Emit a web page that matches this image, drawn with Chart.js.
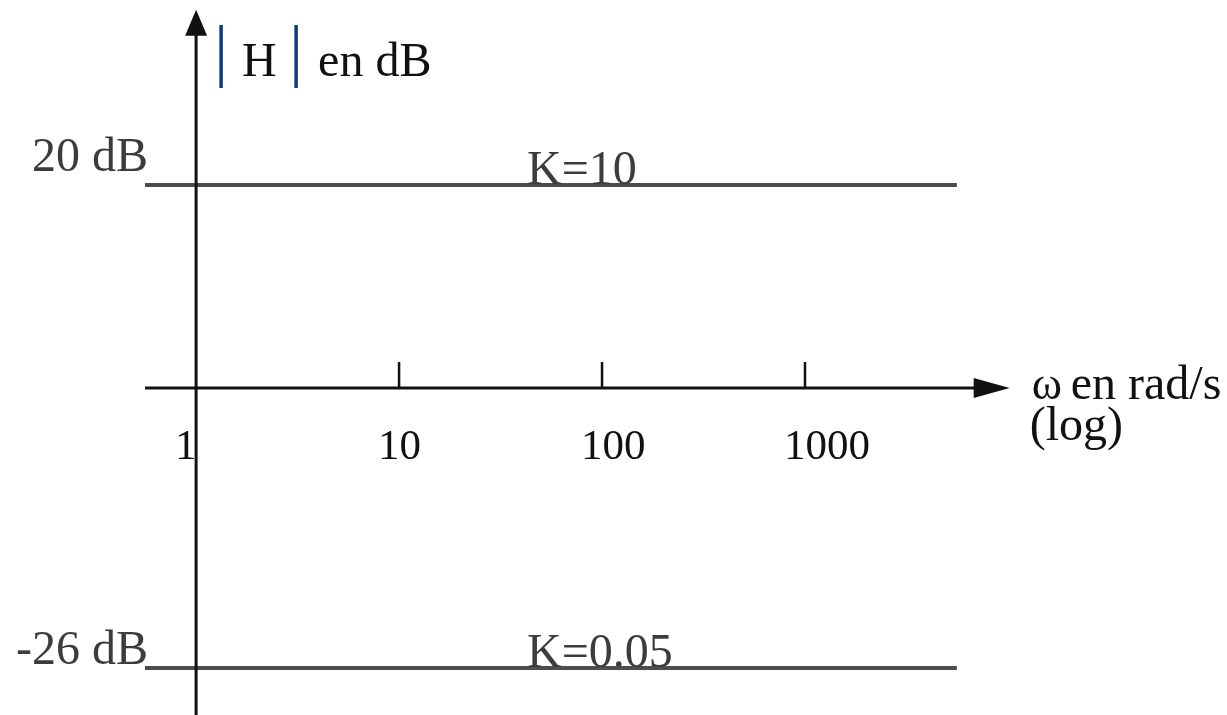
<!DOCTYPE html>
<html>
<head>
<meta charset="utf-8">
<title>Diagramme de Bode - gain K</title>
<script src="https://cdn.jsdelivr.net/npm/chart.js@4.4.1/dist/chart.umd.min.js"></script>
<style>
  html, body { margin: 0; padding: 0; background: #fff; }
  #bode { display: block; }
</style>
</head>
<body>
<canvas id="bode" width="1227" height="715"></canvas>
<script>
// gains constants K et leur module en dB
const gainNames = ["K=10", "K=0.05"];
const gainDb = [20, -26];
const dbLabels = ["20 dB", "-26 dB"];

// axe des pulsations (log)
const omegaTicks = [10, 100, 1000];
const omegaLabelValues = [1, 10, 100, 1000];
const omegaLabels = ["1", "10", "100", "1000"];
const omegaSpan = [0.56, 5600];   // etendue des droites
const omegaAxisEnd = 10200;       // pointe de la fleche
const dbAxisEnd = 36.7;

const FONT = '"Liberation Serif", "Times New Roman", serif';

const axesPlugin = {
  id: "bodeAxes",
  afterDatasetsDraw(chart) {
    const ctx = chart.ctx;
    const xs = chart.scales.x, ys = chart.scales.y;
    const ax0 = xs.getPixelForValue(1);
    const ay0 = ys.getPixelForValue(0);
    const left = xs.getPixelForValue(omegaSpan[0]);
    const right = xs.getPixelForValue(omegaAxisEnd);
    const top = ys.getPixelForValue(dbAxisEnd);

    ctx.save();
    ctx.strokeStyle = "#111";
    ctx.fillStyle = "#111";
    ctx.lineWidth = 3;

    // axe horizontal + fleche
    ctx.beginPath();
    ctx.moveTo(left, ay0 - 7);
    ctx.lineTo(right - 30, ay0 - 7);
    ctx.stroke();
    ctx.beginPath();
    ctx.moveTo(right, ay0 - 7);
    ctx.lineTo(right - 36, ay0 - 17);
    ctx.lineTo(right - 36, ay0 + 3);
    ctx.closePath();
    ctx.fill();

    // axe vertical + fleche
    ctx.beginPath();
    ctx.moveTo(ax0, chart.height);
    ctx.lineTo(ax0, top + 25);
    ctx.stroke();
    ctx.beginPath();
    ctx.moveTo(ax0, top);
    ctx.lineTo(ax0 - 11, top + 26);
    ctx.lineTo(ax0 + 11, top + 26);
    ctx.closePath();
    ctx.fill();

    // graduations
    ctx.lineWidth = 2.5;
    omegaTicks.forEach(v => {
      const px = xs.getPixelForValue(v);
      ctx.beginPath();
      ctx.moveTo(px, ay0 - 7);
      ctx.lineTo(px, ay0 - 33);
      ctx.stroke();
    });

    // etiquettes des graduations
    ctx.font = "43px " + FONT;
    ctx.textAlign = "left";
    ctx.textBaseline = "alphabetic";
    omegaLabelValues.forEach((v, i) => {
      const px = xs.getPixelForValue(v);
      ctx.fillText(omegaLabels[i], px - 21, ay0 + 64);
    });

    // titre de l'axe horizontal
    ctx.font = "46px " + FONT;
    ctx.fillText("\u03c9", right + 22, ay0 + 4);
    ctx.font = "48px " + FONT;
    ctx.fillText("en rad/s", right + 61, ay0 + 4);
    ctx.fillText("(log)", right + 20, ay0 + 45);

    // titre de l'axe vertical |H| en dB
    ctx.fillText("H", ax0 + 46, 76);
    ctx.fillText("en dB", ax0 + 122, 76);
    ctx.strokeStyle = "#0b3c7d";
    ctx.lineWidth = 3.5;
    [ax0 + 25, ax0 + 100].forEach(bx => {
      ctx.beginPath();
      ctx.moveTo(bx, 25);
      ctx.lineTo(bx, 88);
      ctx.stroke();
    });

    // niveaux en dB et valeurs de K
    const dbOffsets = [-14, -4];
    ctx.fillStyle = "#3c3c3c";
    gainDb.forEach((g, i) => {
      const py = ys.getPixelForValue(g);
      ctx.font = "48px " + FONT;
      ctx.textAlign = "right";
      ctx.fillText(dbLabels[i], ax0 - 48, py + dbOffsets[i]);
      ctx.textAlign = "left";
      ctx.fillText(gainNames[i], ax0 + 331, py - 1);
    });
    ctx.restore();
  }
};

const ctx = document.getElementById("bode").getContext("2d");

const datasets = gainDb.map((g, i) => ({
  label: gainNames[i],
  data: omegaSpan.map(w => ({ x: w, y: g })),
  borderColor: "#4d4d4d",
  borderWidth: 4,
  pointRadius: 0,
  fill: false
}));

new Chart(ctx, {
  type: "line",
  data: { datasets: datasets },
  options: {
    responsive: false,
    animation: false,
    layout: { padding: 0 },
    plugins: {
      legend: { display: false },
      tooltip: { enabled: false }
    },
    scales: {
      x: { type: "logarithmic", min: 0.1081, max: 120000, display: false },
      y: { type: "linear", min: -30.48, max: 37.62, display: false }
    }
  },
  plugins: [axesPlugin]
});
</script>
</body>
</html>
